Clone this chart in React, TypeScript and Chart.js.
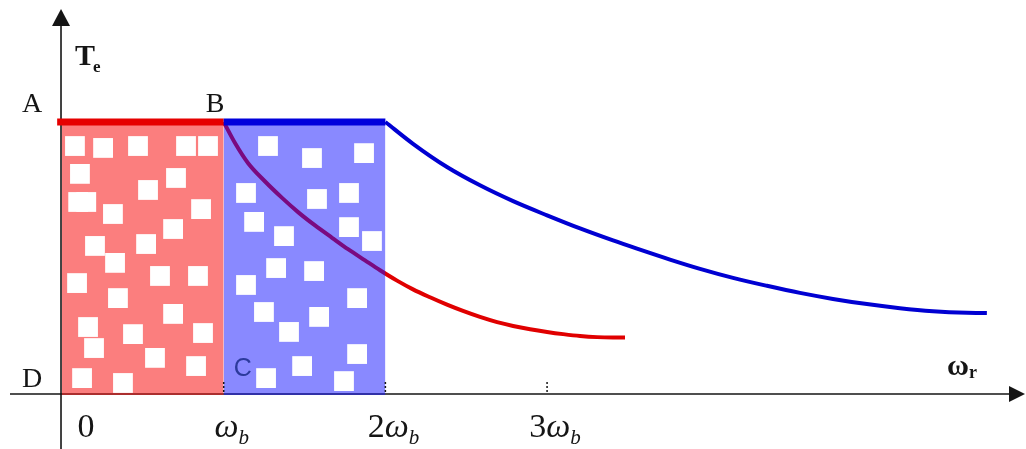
import React, { useEffect, useRef } from "react";
import { Chart, registerables } from "chart.js";

Chart.register(...registerables);

// ---- data (x in units of ωb, y in units of rated torque) ----
const flatLevel = 1;
const redFlatX = [-0.03, 1];
const blueFlatX = [1, 2];
const redRegionX = [0, 1];
const blueRegionX = [1, 2];

const redCurveX = [1, 1.07, 1.15, 1.256, 1.361, 1.46, 1.565, 1.67, 1.769, 1.874, 1.967, 2.072, 2.171, 2.276, 2.381, 2.48, 2.585, 2.691, 2.79, 2.895, 3.0, 3.099, 3.204, 3.309, 3.408, 3.482];
const redCurveY = [1, 0.923, 0.85, 0.782, 0.722, 0.67, 0.621, 0.576, 0.534, 0.493, 0.457, 0.419, 0.387, 0.358, 0.331, 0.308, 0.286, 0.267, 0.253, 0.241, 0.231, 0.223, 0.216, 0.212, 0.211, 0.211];

const blueCurveX = [2, 2.171, 2.381, 2.585, 2.79, 3.0, 3.204, 3.408, 3.556, 3.76, 3.946, 4.15, 4.36, 4.564, 4.768, 4.978, 5.182, 5.387, 5.597, 5.72];
const blueCurveY = [1, 0.92, 0.835, 0.768, 0.71, 0.658, 0.61, 0.566, 0.536, 0.496, 0.462, 0.429, 0.4, 0.374, 0.352, 0.333, 0.318, 0.307, 0.301, 0.3];

const squareX = [
  0.08, 0.254, 0.47, 0.767, 0.903, 0.111, 0.705, 0.532, 0.1, 0.15, 0.315, 0.86, 0.687, 0.204, 0.52, 0.328, 0.093, 0.606,
  0.841, 0.346, 0.687, 0.161, 0.439, 0.872, 0.198, 0.575, 0.829, 0.124, 0.377,
  1.274, 1.546, 1.868, 1.138, 1.577, 1.775, 1.188, 1.373, 1.775, 1.917, 1.324, 1.559, 1.138, 1.825, 1.249, 1.59, 1.404,
  1.825, 1.485, 1.262, 1.744,
];
const squareY = [
  0.912, 0.905, 0.912, 0.912, 0.912, 0.81, 0.795, 0.751, 0.707, 0.707, 0.663, 0.681, 0.608, 0.546, 0.553, 0.484, 0.41, 0.436,
  0.436, 0.355, 0.297, 0.249, 0.223, 0.227, 0.172, 0.136, 0.106, 0.062, 0.044,
  0.912, 0.868, 0.886, 0.74, 0.718, 0.74, 0.634, 0.582, 0.615, 0.564, 0.465, 0.454, 0.403, 0.355, 0.304, 0.286, 0.231,
  0.15, 0.106, 0.062, 0.051,
];

const tickValues = [0, 1, 2, 3];
const tickMain = ["0", "ω", "2ω", "3ω"];
const tickSub = ["", "b", "b", "b"];

const pts = (xs: number[], ys: number[]) => xs.map((x, i) => ({ x, y: ys[i] }));
const flat = (xs: number[]) => xs.map((x) => ({ x, y: flatLevel }));

const SERIF = '"Liberation Serif", "DejaVu Serif", serif';
const INK = "#151515";

const axesPlugin = {
  id: "axesAndLabels",
  beforeDatasetsDraw(chart: any) {
    const { ctx } = chart;
    const xs = chart.scales.x;
    const ys = chart.scales.y;
    const x0 = xs.getPixelForValue(0) - 1;
    const y0 = ys.getPixelForValue(0) - 1;
    ctx.save();
    ctx.strokeStyle = INK;
    ctx.fillStyle = INK;
    ctx.lineWidth = 1.6;
    // x axis
    ctx.beginPath();
    ctx.moveTo(10, y0);
    ctx.lineTo(xs.right - 12, y0);
    ctx.stroke();
    ctx.beginPath();
    ctx.moveTo(xs.right - 1, y0);
    ctx.lineTo(xs.right - 17, y0 - 8);
    ctx.lineTo(xs.right - 17, y0 + 8);
    ctx.closePath();
    ctx.fill();
    // y axis
    ctx.beginPath();
    ctx.moveTo(x0, ys.bottom);
    ctx.lineTo(x0, ys.top + 20);
    ctx.stroke();
    ctx.beginPath();
    ctx.moveTo(x0, ys.top + 9);
    ctx.lineTo(x0 - 9, ys.top + 26);
    ctx.lineTo(x0 + 9, ys.top + 26);
    ctx.closePath();
    ctx.fill();
    ctx.restore();
  },
  afterDatasetsDraw(chart: any) {
    const { ctx } = chart;
    const xs = chart.scales.x;
    const ys = chart.scales.y;
    const x0 = xs.getPixelForValue(0);
    const y0 = ys.getPixelForValue(0) - 1;
    const xB = xs.getPixelForValue(1);
    const yTop = ys.getPixelForValue(flatLevel);
    ctx.save();
    // dashed tick marks
    ctx.strokeStyle = INK;
    ctx.lineWidth = 1.5;
    ctx.setLineDash([2, 2]);
    tickValues.forEach((v) => {
      if (v === 0) return;
      const px = xs.getPixelForValue(v);
      ctx.beginPath();
      ctx.moveTo(px, y0 - 12);
      ctx.lineTo(px, y0);
      ctx.stroke();
    });
    ctx.setLineDash([]);

    // tick labels
    ctx.fillStyle = INK;
    ctx.textBaseline = "alphabetic";
    ctx.textAlign = "left";
    tickValues.forEach((v, i) => {
      const main = tickMain[i];
      const sub = tickSub[i];
      const parts: { t: string; f: string; dy: number }[] = [];
      for (const ch of main) {
        parts.push({ t: ch, f: ch === "ω" ? `italic 34px ${SERIF}` : `34px ${SERIF}`, dy: 0 });
      }
      if (sub) parts.push({ t: sub, f: `italic 21px ${SERIF}`, dy: 7 });
      let w = 0;
      parts.forEach((p) => {
        ctx.font = p.f;
        w += ctx.measureText(p.t).width;
      });
      const center = xs.getPixelForValue(v) + (v === 0 ? 24 : 8);
      let cx = center - w / 2;
      const base = y0 + 43;
      parts.forEach((p) => {
        ctx.font = p.f;
        ctx.fillText(p.t, cx, base + p.dy);
        cx += ctx.measureText(p.t).width;
      });
    });

    // point letters
    ctx.font = `28px ${SERIF}`;
    ctx.fillText("A", x0 - 40, yTop - 10);
    ctx.fillText("B", xB - 18, yTop - 10);
    ctx.fillText("D", x0 - 40, y0 - 7);
    ctx.fillStyle = "#2c3a9c";
    ctx.font = `25px "Liberation Sans", Arial, sans-serif`;
    ctx.fillText("C", xB + 10, y0 - 18);

    // axis titles
    ctx.fillStyle = INK;
    ctx.font = `bold 30px ${SERIF}`;
    ctx.fillText("T", x0 + 13, yTop - 57);
    const tw = ctx.measureText("T").width;
    ctx.font = `bold 17px ${SERIF}`;
    ctx.fillText("e", x0 + 13 + tw - 2, yTop - 50);

    ctx.font = `bold 30px ${SERIF}`;
    ctx.fillText("ω", xs.right - 79, y0 - 19);
    const ow = ctx.measureText("ω").width;
    ctx.font = `bold 18px ${SERIF}`;
    ctx.fillText("r", xs.right - 79 + ow, y0 - 16);
    ctx.restore();
  },
};

export default function App() {
  const ref = useRef<HTMLCanvasElement | null>(null);
  useEffect(() => {
    if (!ref.current) return;
    const chart = new Chart(ref.current, {
      type: "line",
      data: {
        datasets: [
          {
            label: "blue flat",
            data: flat(blueFlatX),
            borderColor: "#0000dc",
            borderWidth: 7,
            pointRadius: 0,
            order: 1,
          },
          {
            label: "blue curve",
            data: pts(blueCurveX, blueCurveY),
            borderColor: "#0000d2",
            borderWidth: 4,
            pointRadius: 0,
            cubicInterpolationMode: "monotone",
            order: 1,
          },
          {
            type: "scatter",
            label: "squares",
            data: pts(squareX, squareY),
            pointStyle: "rect",
            pointRadius: 14,
            backgroundColor: "#ffffff",
            borderWidth: 0,
            order: 2,
          },
          {
            label: "blue region",
            data: flat(blueRegionX),
            borderWidth: 0,
            pointRadius: 0,
            fill: "origin",
            backgroundColor: "rgba(20, 20, 255, 0.5)",
            order: 3,
          },
          {
            label: "red curve",
            data: pts(redCurveX, redCurveY),
            borderColor: "#e00000",
            borderWidth: 4,
            pointRadius: 0,
            cubicInterpolationMode: "monotone",
            order: 4,
          },
          {
            label: "red flat",
            data: flat(redFlatX),
            borderColor: "#e60000",
            borderWidth: 7,
            pointRadius: 0,
            order: 4,
          },
          {
            label: "red region",
            data: flat(redRegionX),
            borderWidth: 0,
            pointRadius: 0,
            fill: "origin",
            backgroundColor: "rgba(248, 20, 20, 0.55)",
            order: 5,
          },
        ] as any,
      },
      options: {
        animation: false,
        responsive: false,
        devicePixelRatio: 1,
        layout: { padding: 0, autoPadding: false },
        plugins: { legend: { display: false }, tooltip: { enabled: false } },
        scales: {
          x: { type: "linear", min: -0.3835, max: 5.962, display: false },
          y: { type: "linear", min: -0.1978, max: 1.4469, display: false },
        },
      },
      plugins: [axesPlugin],
    });
    return () => chart.destroy();
  }, []);

  return (
    <div style={{ position: "fixed", left: 0, top: 0, width: 1026, height: 449, background: "#fff" }}>
      <canvas ref={ref} width={1026} height={449} style={{ display: "block" }} />
    </div>
  );
}
